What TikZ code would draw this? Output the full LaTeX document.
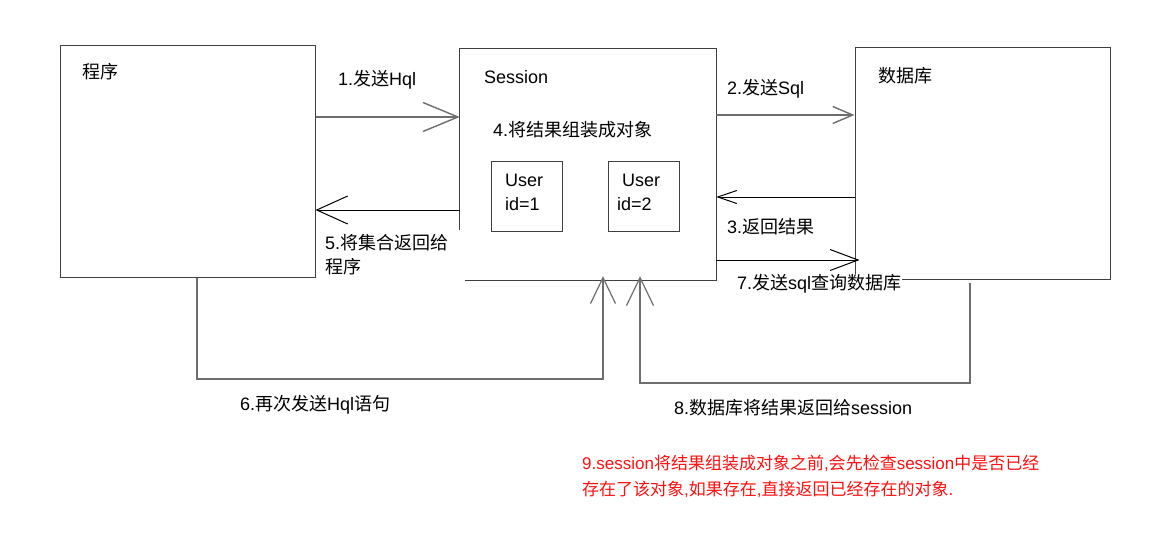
\documentclass[tikz,border=0pt]{standalone}
\usepackage{fontspec}
\setmainfont{Liberation Sans}
\newfontfamily\zhfont{Noto Sans CJK SC}
\newcommand\zht[1]{{\zhfont #1}}
\usetikzlibrary{arrows.meta}
\definecolor{boxgray}{HTML}{404040}
\definecolor{linegray}{HTML}{6E6E6E}
\definecolor{notered}{HTML}{FF1010}
\tikzset{
  boxstyle/.style={draw=boxgray,line width=1pt,inner sep=0pt,anchor=center},
  boxline/.style={draw=boxgray,line width=1pt},
  lbl/.style={anchor=west,inner sep=0pt,font=\fontsize{18pt}{22pt}\selectfont},
  redlbl/.style={anchor=west,inner sep=0pt,text=notered,font=\fontsize{17pt}{21pt}\selectfont},
  arrgray/.style={draw=linegray,line width=1.4pt},
  arrblack/.style={draw=black,line width=1pt},
}
\begin{document}
\begin{tikzpicture}[x=1pt,y=-1pt]
\useasboundingbox[fill=white] (0,0) rectangle (1161,535);
% boxes
\node[boxstyle,minimum width=255pt,minimum height=231pt] (prog) at (187.5,161.5) {};
\node[inner sep=0pt,minimum width=256pt,minimum height=231pt] (sess) at (588,164.5) {};
\node[boxstyle,minimum width=255pt,minimum height=231pt] (db) at (982.5,163.5) {};
\node[boxstyle,minimum width=71pt,minimum height=70pt] (u1) at (526.5,196) {};
\node[boxstyle,minimum width=71pt,minimum height=70pt] (u2) at (643.5,196) {};
\draw[boxline] ([xshift=5pt]sess.south west) -- (sess.south east) -- (sess.north east) -- (sess.north west) -- ++(0,181);
% box texts
\node[lbl] (tprog) at (82,72) {\zht{程序}};
\node[lbl] (tsess) at (484,77) {Session};
\node[lbl] (tdb) at (878,76) {\zht{数据库}};
\node[lbl] (t4) at (493,130) {4.\zht{将结果组装成对象}};
\node[lbl] (u1a) at (505,180) {User};
\node[lbl] (u1b) at (505,204) {id=1};
\node[lbl] (u2a) at (622,180) {User};
\node[lbl] (u2b) at (617,204) {id=2};
% arrows
\draw[arrgray,-{Straight Barb[length=35pt,width=29pt]}] (prog.east |- 0,117) -- (sess.west |- 0,117);
\draw[arrblack,-{Straight Barb[length=31pt,width=28pt]}] (sess.west |- 0,210) -- (prog.east |- 0,210);
\draw[arrgray,-{Straight Barb[length=20pt,width=17pt]}] (sess.east |- 0,115) -- (db.west |- 0,115);
\draw[arrblack,-{Straight Barb[length=19pt,width=13pt]}] (db.west |- 0,197) -- (sess.east |- 0,197);
\draw[arrblack,-{Straight Barb[length=28pt,width=21pt]}] (sess.east |- 0,260) -- ([xshift=5pt]db.west |- 0,260);
\draw[arrgray,line width=1.2pt,-{Straight Barb[length=26pt,width=25pt]}] (prog.south -| 197,0) -- (197,379) -- (603,379) -- ([yshift=4pt]sess.south -| 603,0);
\draw[arrgray,line width=1.2pt,-{Straight Barb[length=28pt,width=27pt]}] ([yshift=-3pt]db.south -| 970,0) -- (970,383) -- (640,383) -- ([yshift=4pt]sess.south -| 640,0);
% labels
\node[lbl] (l1) at (338,80) {1.\zht{发送}Hql};
\node[lbl] (l2) at (727,89) {2.\zht{发送}Sql};
\node[lbl] (l3) at (727,227) {3.\zht{返回结果}};
\node[lbl] (l5a) at (325,243) {5.\zht{将集合返回给}};
\node[lbl] (l5b) at (325,267) {\zht{程序}};
\node[lbl,fill=white,inner sep=1pt] (l7) at (736,284) {7.\zht{发送}sql\zht{查询数据库}};
\node[lbl] (l6) at (240,405) {6.\zht{再次发送}Hql\zht{语句}};
\node[lbl] (l8) at (674,408) {8.\zht{数据库将结果返回给}session};
\node[redlbl] (n9a) at (582,463) {9.session\zht{将结果组装成对象之前},\zht{会先检查}session\zht{中是否已经}};
\node[redlbl] (n9b) at (582,489) {\zht{存在了该对象},\zht{如果存在},\zht{直接返回已经存在的对象}.};
\end{tikzpicture}
\end{document}
